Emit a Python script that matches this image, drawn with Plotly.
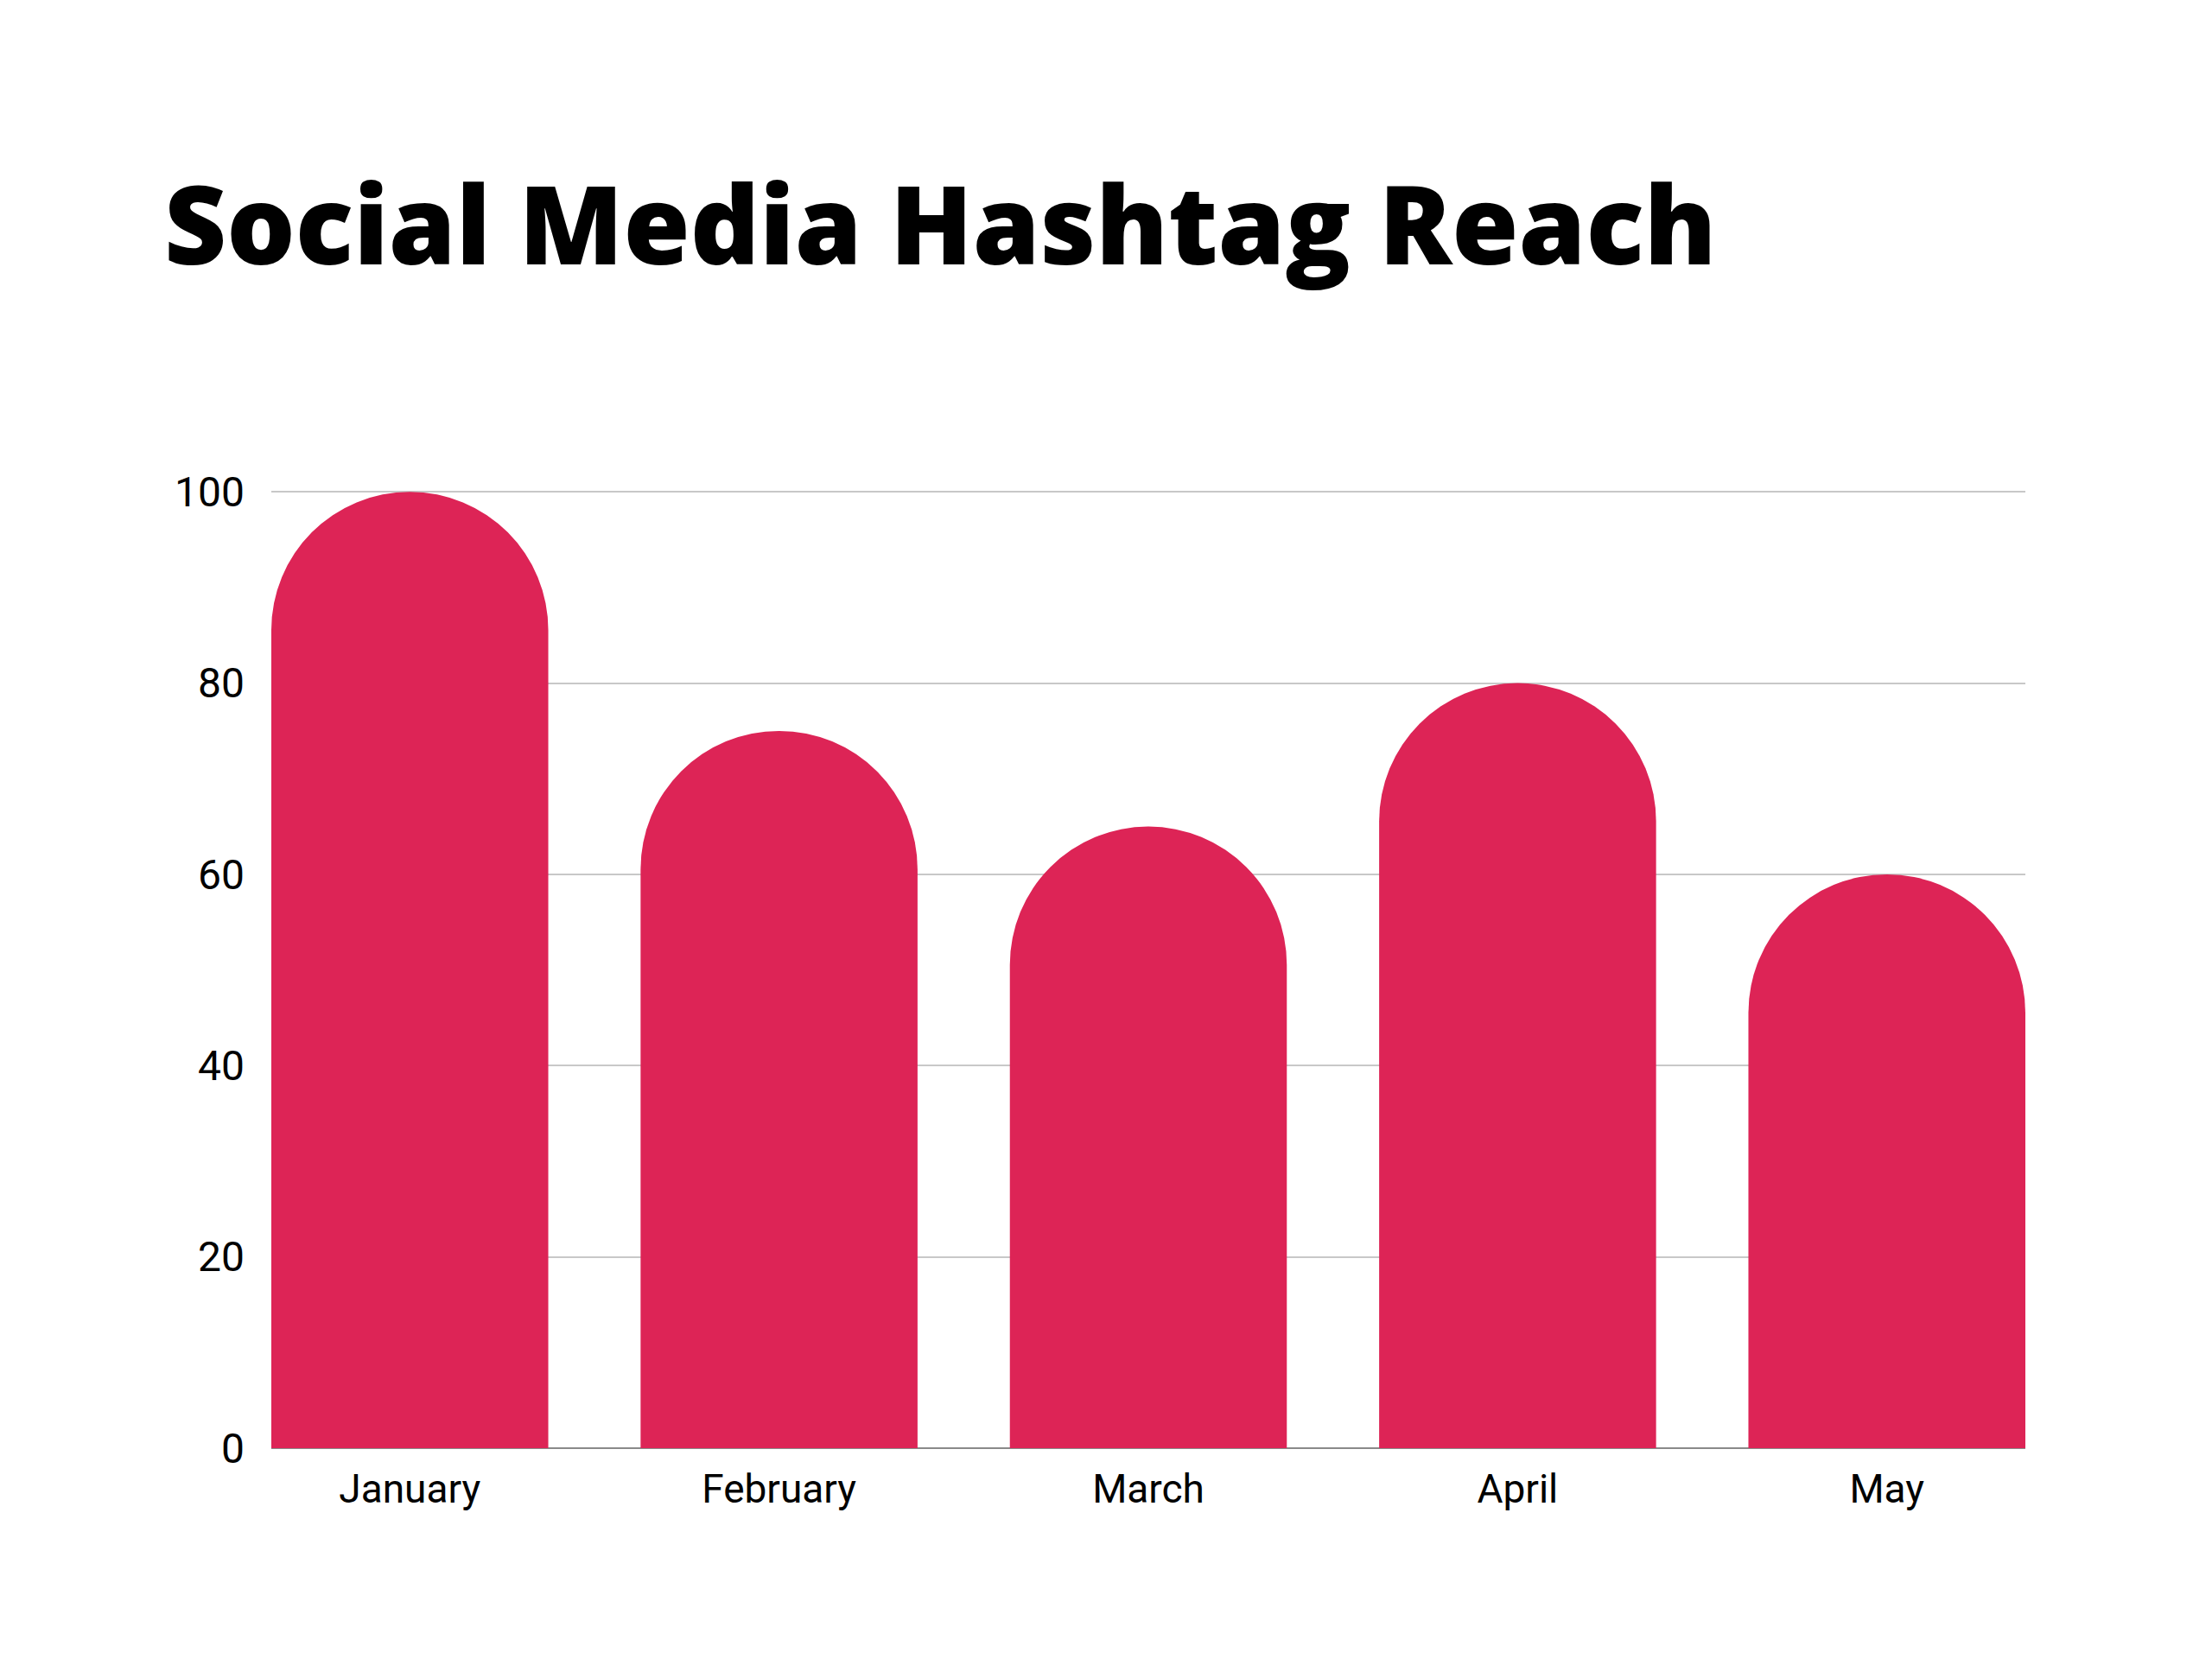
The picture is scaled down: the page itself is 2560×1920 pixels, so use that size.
import plotly.graph_objects as go

months = ["January", "February", "March", "April", "May"]
reach = [100, 75, 65, 80, 60]
y_ticks = [0, 20, 40, 60, 80, 100]

fig = go.Figure(
    go.Bar(
        x=months,
        y=reach,
        marker=dict(color="#DD2456", cornerradius="50%", line=dict(width=0)),
        width=0.75,
    )
)

fig.update_layout(
    width=2560,
    height=1920,
    paper_bgcolor="white",
    plot_bgcolor="white",
    margin=dict(l=314, r=216, t=567, b=244),
    showlegend=False,
    title=dict(
        text="Social Media Hashtag Reach",
        font=dict(family="Open Sans", size=125, color="black", weight=800),
        x=190 / 2560,
        xref="container",
        xanchor="left",
        y=1 - 262 / 1920,
        yref="container",
        yanchor="middle",
    ),
    bargap=0.25,
)

fig.update_xaxes(
    range=[-0.375, 4.375],
    showgrid=False,
    showline=False,
    ticks="",
    ticklabelstandoff=16,
    tickfont=dict(family="Roboto", size=46, color="black"),
)
fig.update_yaxes(
    range=[0, 100.2],
    tickvals=y_ticks,
    showgrid=True,
    gridcolor="#C8C8C8",
    gridwidth=2,
    zeroline=True,
    zerolinecolor="#8A8A8A",
    zerolinewidth=2,
    showline=False,
    ticks="",
    ticklabelstandoff=30,
    tickfont=dict(family="Roboto", size=48, color="black"),
)

fig.write_html("out.html")
